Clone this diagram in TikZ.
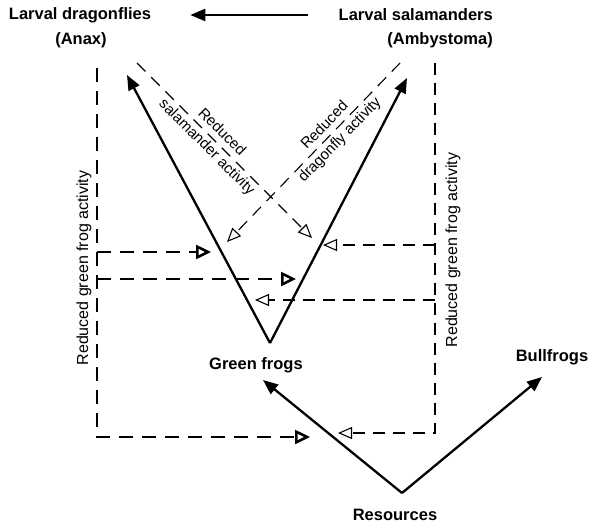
\documentclass[tikz,border=0pt]{standalone}
\usepackage{fontspec}
\setmainfont{Liberation Sans}
\usetikzlibrary{arrows.meta}

\begin{document}
\begin{tikzpicture}[x=1pt, y=-1pt]
				\tikzstyle{every node}=[inner sep=1pt, align=center, font=\fontsize{16}{19}\selectfont]
				\tikzstyle{taxon}=[font=\fontsize{16.5}{19}\selectfont\bfseries]
				\tikzstyle{effect}=[line width=2.3pt, -{Triangle[length=15pt, width=12pt]}]
				\tikzstyle{strongdash}=[line width=2.5pt, dash pattern=on 14pt off 9pt, -{Triangle[open, length=15pt, width=14pt]}]
				\tikzstyle{weakdash}=[line width=1.1pt, dash pattern=on 12pt off 8pt, -{Triangle[open, length=14pt, width=12pt]}]
				\useasboundingbox (0,0) rectangle (589,525);
				% taxa
				\node[taxon] (drag) at (80, 15) {Larval dragonflies};
				\node[taxon] (anax) at (81, 40) {(Anax)};
				\node[taxon, anchor=east] (sal) at (494, 15) {Larval salamanders};
				\node[taxon, anchor=east] (amby) at (494, 40) {(Ambystoma)};
				\node[taxon] (green) at (256, 365) {Green frogs};
				\node[taxon] (bull) at (552, 357) {Bullfrogs};
				\node[taxon] (res) at (395, 515) {Resources};
				% arrow ends
				\coordinate (greenapex) at (270, 343);
				\coordinate (anaxtip) at (127, 75);
				\coordinate (ambytip) at (407, 78);
				\coordinate (resapex) at (402, 493);
				\coordinate (greentip) at (263, 380);
				\coordinate (bulltip) at (542, 377);
				% direct effects
				\draw [effect, shorten <=30pt, shorten >=38pt] (sal.west) -- (drag.east);
				\draw [effect] (greenapex) -- (anaxtip);
				\draw [effect] (greenapex) -- (ambytip);
				\draw [effect] (resapex) -- (greentip);
				\draw [effect] (resapex) -- (bulltip);
				% indirect effects via salamanders and dragonflies
				\coordinate (saltop) at (137, 63);
				\coordinate (saltip) at (312, 238);
				\coordinate (dragtop) at (400, 63);
				\coordinate (dragtip) at (227, 242);
				\draw [weakdash] (saltop) -- (saltip) node[pos=0.44, sloped, font=\fontsize{15}{17}\selectfont] (saltext) {Reduced\\[4pt]salamander activity};
				\draw [weakdash] (dragtop) -- (dragtip) node[pos=0.39, sloped, font=\fontsize{15}{17}\selectfont] (dragtext) {Reduced\\[4pt]dragonfly activity};
				% green frog activity, dragonfly side
				\coordinate (ltop) at (97, 68);
				\coordinate (lmid) at (97, 252);
				\coordinate (llow) at (97, 279);
				\coordinate (lbot) at (310, 437);
				\draw [strongdash] (ltop) |- (lbot);
				\draw [strongdash] (lmid) -- (211, 252);
				\draw [strongdash] (llow) -- (296, 279);
				\node[rotate=90] (lefttext) at (84, 268) {Reduced green frog activity};
				% green frog activity, salamander side
				\coordinate (rtop) at (435, 63);
				\coordinate (rmid) at (435, 245);
				\coordinate (rlow) at (435, 300);
				\coordinate (rbot) at (338, 433);
				\draw [weakdash] (rtop) |- (rbot);
				\draw [weakdash] (rmid) -- (323, 245);
				\draw [weakdash] (rlow) -- (255, 300);
				\node[rotate=90] (righttext) at (453, 250) {Reduced green frog activity};
		\end{tikzpicture}
\end{document}
